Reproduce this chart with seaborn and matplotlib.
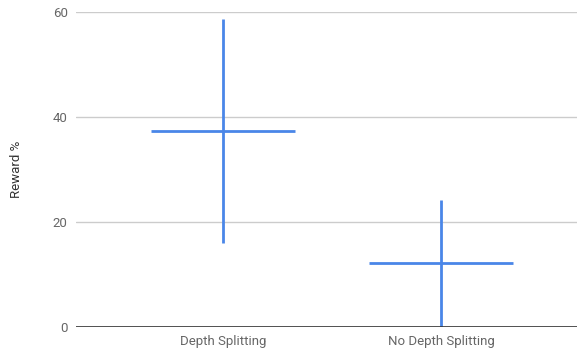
import matplotlib
matplotlib.use("Agg")
import matplotlib.pyplot as plt
import seaborn as sns
import pandas as pd

# Reward summary per configuration
categories = ["Depth Splitting", "No Depth Splitting"]
mean_reward = [37.3, 12.2]
low_reward = [15.9, 0.0]
high_reward = [58.7, 24.1]
y_ticks = [0, 20, 40, 60]

df = pd.DataFrame({
    "config": categories,
    "mean": mean_reward,
    "low": low_reward,
    "high": high_reward,
})

sns.set_theme(style="white")
plt.rcParams["font.family"] = ["Roboto", "DejaVu Sans"]

fig = plt.figure(figsize=(5.77, 3.52), dpi=100)
ax = fig.add_axes([76 / 577, 1 - 326.7 / 352, 501 / 577, (326.7 - 12) / 352])

blue = "#4a86e8"
pos = list(range(len(df)))
half = 0.329

# grid
for t in y_ticks[1:]:
    ax.axhline(t, color="#cccccc", lw=1.0, zorder=0)
ax.axhline(0, color="#333333", lw=1.2, zorder=3)

# range bars and mean markers
ax.vlines(pos, df["low"], df["high"], color=blue, lw=2.0, zorder=2)
ax.hlines(df["mean"], [p - half for p in pos], [p + half for p in pos],
          color=blue, lw=2.0, zorder=2)

ax.set_xlim(-0.674, 1.624)
ax.set_ylim(0, 60)
ax.set_yticks(y_ticks)
ax.set_yticklabels([str(t) for t in y_ticks])
ax.set_xticks(pos)
ax.set_xticklabels(categories)
ax.tick_params(axis="both", length=0, labelsize=9.5, colors="#666666")
ax.tick_params(axis="y", pad=6)
ax.tick_params(axis="x", pad=6)
ax.set_ylabel("Reward %", fontsize=9.5, color="#333333", labelpad=21)
for s in ax.spines.values():
    s.set_visible(False)

fig.savefig("out.png", dpi=100)
